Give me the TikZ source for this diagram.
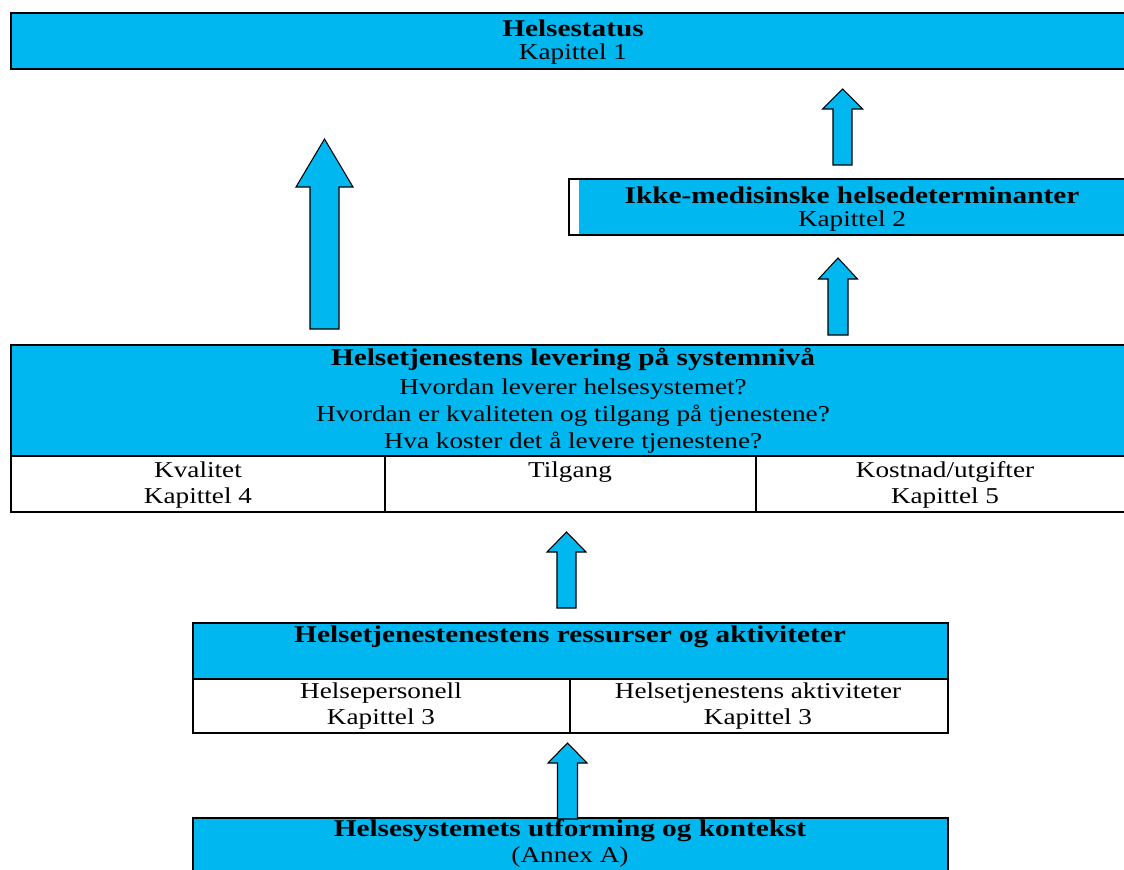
\documentclass[tikz,border=0pt]{standalone}
\usepackage{fontspec}
\setmainfont{Liberation Serif}[FakeStretch=1.2,BoldFeatures={FakeStretch=1.22}]
\usetikzlibrary{fit}
\definecolor{hblue}{RGB}{0,183,240}
\newcommand{\blockup}[6]{%
  \draw[barrow] ({#1-#4},#2) -- ({#1-#4},#6) -- ({#1-#5},#6) -- (#1,#3)
    -- ({#1+#5},#6) -- ({#1+#4},#6) -- ({#1+#4},#2) -- cycle;}
\begin{document}
\begin{tikzpicture}[x=0.75pt,y=-0.75pt,
  box/.style={draw=black,line width=1.5pt,fill=hblue,inner sep=0pt},
  cell/.style={draw=black,line width=1.5pt,fill=white,inner sep=0pt},
  lbl/.style={font=\fontsize{17}{20}\selectfont,align=center,inner sep=0pt},
  ttl/.style={font=\fontsize{18}{20}\selectfont\bfseries,inner sep=0pt},
  barrow/.style={draw=black,line width=0.8pt,fill=hblue,line join=miter}]
\useasboundingbox[fill=white] (0,0) rectangle (1124,870);

% Top box
\node[box,fit={(11,13)(1135,69)}] (top) {};
\node[ttl] (topT) at (573,28) {Helsestatus};
\node[lbl] (topK) at (573,54) {Kapittel 1};

% Ikke-medisinske box
\node[cell,fit={(569,179)(1135,235)}] (ikke) {};
\fill[hblue] (579,180) rectangle (1134,234);
\draw[line width=1.5pt] (569,179) rectangle (1135,235);
\node[ttl] (ikkeT) at (852,195) {Ikke-medisinske helsedeterminanter};
\node[lbl] (ikkeK) at (852,221) {Kapittel 2};

% Levering box
\node[box,fit={(11,345)(1135,456)}] (lev) {};
\node[cell,fit={(11,456)(385,512)}] (kval) {};
\node[cell,fit={(385,456)(756,512)}] (tilg) {};
\node[cell,fit={(756,456)(1135,512)}] (kost) {};
\node[ttl] (levT) at (573,359) {Helsetjenestens levering på systemnivå};
\node[lbl] (levQ) at (573,416) {Hvordan leverer helsesystemet?\\Hvordan er kvaliteten og tilgang på tjenestene?\\Hva koster det å levere tjenestene?};
\node[lbl] (kvalT) at (198,485) {Kvalitet\\Kapittel 4};
\node[lbl] (tilgT) at (570,472) {Tilgang};
\node[lbl] (kostT) at (945,485) {Kostnad/utgifter\\Kapittel 5};

% Ressurser box
\node[box,fit={(193,623)(948,679)}] (res) {};
\node[cell,fit={(193,679)(570,733)}] (pers) {};
\node[cell,fit={(570,679)(948,733)}] (akt) {};
\node[ttl] (resT) at (570,637) {Helsetjenestenestens ressurser og aktiviteter};
\node[lbl] (persT) at (381,706) {Helsepersonell\\Kapittel 3};
\node[lbl] (aktT) at (758,706) {Helsetjenestens aktiviteter\\Kapittel 3};

% Bottom box
\node[box,fit={(193,818)(948,880)}] (bot) {};
\node[ttl] (botT) at (570,831) {Helsesystemets utforming og kontekst};
\node[lbl] (botA) at (570,857) {(Annex A)};

% Block arrows
\blockup{324.5}{329}{139}{14.5}{28.5}{187}
\blockup{842.5}{165}{89}{9.5}{20}{109}
\blockup{838}{335}{258}{10}{19.5}{279}
\blockup{566.5}{608}{532}{9.5}{19.5}{552}
\blockup{567.5}{819}{743}{10}{19.5}{763}
\end{tikzpicture}
\end{document}
